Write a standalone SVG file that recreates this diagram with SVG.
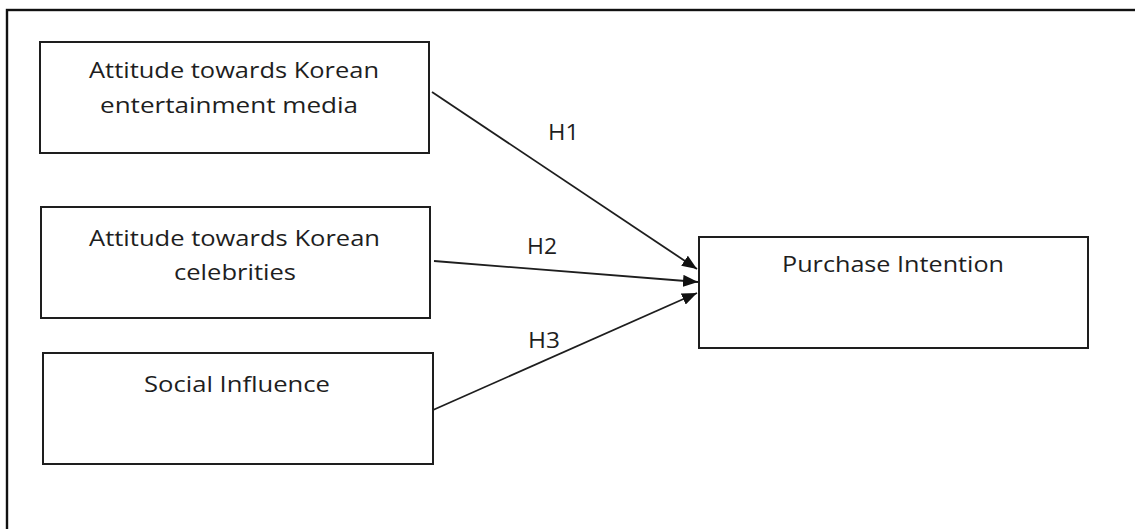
<svg xmlns="http://www.w3.org/2000/svg" width="1135" height="529" viewBox="0 0 1135 529">
  <style>
    .box { fill: #ffffff; stroke: #1e1e1e; stroke-width: 2; }
    .lbl { font-family: "Open Sans", "Liberation Sans", sans-serif; font-size: 22px; fill: #1e1e1e; }
    .edge { stroke: #1e1e1e; stroke-width: 1.8; fill: none; marker-end: url(#arrow); }
  </style>
  <defs>
    <marker id="arrow" markerUnits="userSpaceOnUse" markerWidth="15" markerHeight="12" refX="15" refY="6" orient="auto">
      <path d="M0,0 L15,6 L0,12 Z" fill="#111111"/>
    </marker>
  </defs>
  <rect x="0" y="0" width="1135" height="529" fill="#ffffff"/>
  <g id="frame">
    <rect x="7" y="10" width="1200" height="600" fill="none" stroke="#111111" stroke-width="2.4"/>
  </g>
  <g id="node-media">
    <rect class="box" x="40" y="42" width="389" height="111"/>
    <text class="lbl" x="89" y="78" textLength="290" lengthAdjust="spacingAndGlyphs">Attitude towards Korean</text>
    <text class="lbl" x="100" y="113" textLength="258" lengthAdjust="spacingAndGlyphs">entertainment media</text>
  </g>
  <g id="node-celebrities">
    <rect class="box" x="41" y="207" width="389" height="111"/>
    <text class="lbl" x="89" y="246" textLength="291" lengthAdjust="spacingAndGlyphs">Attitude towards Korean</text>
    <text class="lbl" x="174" y="280" textLength="122" lengthAdjust="spacingAndGlyphs">celebrities</text>
  </g>
  <g id="node-social">
    <rect class="box" x="43" y="353" width="390" height="111"/>
    <text class="lbl" x="144" y="392" textLength="186" lengthAdjust="spacingAndGlyphs">Social Influence</text>
  </g>
  <g id="node-purchase">
    <rect class="box" x="699" y="237" width="389" height="111"/>
    <text class="lbl" x="782" y="272" textLength="222" lengthAdjust="spacingAndGlyphs">Purchase Intention</text>
  </g>
  <g id="connectors">
    <line class="edge" x1="432" y1="92" x2="697" y2="269"/>
    <line class="edge" x1="434" y1="261" x2="698" y2="282"/>
    <line class="edge" x1="433" y1="410" x2="697" y2="293"/>
    <text class="lbl" x="548" y="140" textLength="31" lengthAdjust="spacingAndGlyphs">H1</text>
    <text class="lbl" x="527" y="254" textLength="30" lengthAdjust="spacingAndGlyphs">H2</text>
    <text class="lbl" x="528" y="348" textLength="32" lengthAdjust="spacingAndGlyphs">H3</text>
  </g>
</svg>
